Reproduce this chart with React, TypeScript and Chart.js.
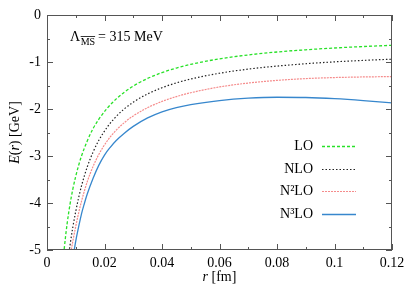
import React, { useEffect, useRef } from "react";
import { Chart, registerables } from "chart.js";

Chart.register(...registerables);

// r [fm] and E(r) [GeV]
const loR = [0.0055, 0.006, 0.007, 0.008, 0.009, 0.01, 0.011, 0.012, 0.014, 0.016, 0.018, 0.021, 0.024, 0.027, 0.03, 0.035, 0.04, 0.045, 0.05, 0.06, 0.07, 0.08, 0.09, 0.1, 0.11, 0.12];
const loE = [-5.3, -4.97, -4.44, -4.03, -3.7, -3.43, -3.2, -3.0, -2.68, -2.42, -2.22, -1.98, -1.79, -1.638, -1.512, -1.35, -1.225, -1.128, -1.05, -0.933, -0.85, -0.787, -0.74, -0.702, -0.671, -0.645];

const nloR = [0.0072, 0.0077, 0.008, 0.009, 0.01, 0.011, 0.012, 0.014, 0.016, 0.018, 0.021, 0.024, 0.027, 0.03, 0.035, 0.04, 0.045, 0.05, 0.06, 0.07, 0.08, 0.09, 0.1, 0.11, 0.12];
const nloE = [-5.27, -5.03, -4.9, -4.51, -4.178, -3.887, -3.637, -3.232, -2.919, -2.669, -2.383, -2.163, -1.992, -1.855, -1.679, -1.547, -1.444, -1.362, -1.239, -1.151, -1.087, -1.037, -0.997, -0.966, -0.94];

const n2loR = [0.008, 0.0085, 0.009, 0.01, 0.011, 0.012, 0.014, 0.016, 0.018, 0.021, 0.024, 0.027, 0.03, 0.035, 0.04, 0.045, 0.05, 0.06, 0.07, 0.08, 0.09, 0.1, 0.11, 0.12];
const n2loE = [-5.18, -4.983, -4.807, -4.496, -4.214, -3.964, -3.547, -3.226, -2.969, -2.675, -2.455, -2.284, -2.147, -1.971, -1.839, -1.736, -1.654, -1.531, -1.448, -1.391, -1.353, -1.331, -1.318, -1.31];

const n3loR = [0.009, 0.0095, 0.01, 0.011, 0.012, 0.013, 0.014, 0.016, 0.018, 0.02, 0.022, 0.024, 0.027, 0.03, 0.035, 0.04, 0.045, 0.05, 0.06, 0.07, 0.08, 0.09, 0.1, 0.11, 0.12];
const n3loE = [-5.19, -4.99, -4.81, -4.51, -4.23, -4.01, -3.81, -3.48, -3.2, -2.98, -2.815, -2.675, -2.51, -2.37, -2.19, -2.06, -1.97, -1.905, -1.82, -1.77, -1.75, -1.755, -1.78, -1.82, -1.87];

const seriesNames = ["LO", "NLO", "N²LO", "N³LO"];
const xTicks = [0, 0.02, 0.04, 0.06, 0.08, 0.1, 0.12];
const yTicks = [0, -1, -2, -3, -4, -5];
const annotationValue = "315 MeV";

const FONT = '"Liberation Serif", "Times New Roman", serif';

const pts = (r: number[], e: number[]) => r.map((v, i) => ({ x: v, y: e[i] }));

const decor = {
  id: "decor",
  afterDraw(chart: any) {
    const ctx = chart.ctx as CanvasRenderingContext2D;
    const { left, right, top, bottom } = chart.chartArea;
    const xs = chart.scales.x;
    const ys = chart.scales.y;
    ctx.save();
    // frame
    ctx.strokeStyle = "#555";
    ctx.lineWidth = 1;
    ctx.strokeRect(left + 0.5, top + 0.5, right - left - 1, bottom - top - 1);
    // ticks
    ctx.beginPath();
    for (let v = 0; v <= 0.12001; v += 0.01) {
      const major = Math.round(v * 100) % 2 === 0;
      const len = major ? 6 : 3;
      const px = Math.round(xs.getPixelForValue(v)) + 0.5;
      ctx.moveTo(px, bottom);
      ctx.lineTo(px, bottom - len);
      ctx.moveTo(px, top);
      ctx.lineTo(px, top + len);
    }
    for (let v = 0; v >= -5.0001; v -= 0.5) {
      const major = Math.abs(v - Math.round(v)) < 1e-6;
      const len = major ? 6 : 3;
      const py = Math.round(ys.getPixelForValue(v)) + 0.5;
      ctx.moveTo(left, py);
      ctx.lineTo(left + len, py);
      ctx.moveTo(right, py);
      ctx.lineTo(right - len, py);
    }
    ctx.stroke();

    ctx.fillStyle = "#000";
    const draw = (parts: [string, string][], x: number, y: number, center: boolean) => {
      let w = 0;
      for (const [t, f] of parts) {
        ctx.font = f;
        w += ctx.measureText(t).width;
      }
      let cx = center ? x - w / 2 : x;
      for (const [t, f] of parts) {
        ctx.font = f;
        ctx.fillText(t, cx, y);
        cx += ctx.measureText(t).width;
      }
    };
    const N = "14px " + FONT;
    const I = "italic 14px " + FONT;
    ctx.textBaseline = "alphabetic";
    ctx.textAlign = "left";
    // x title
    draw([["r", I], [" [fm]", N]], (left + right) / 2, 281, true);
    // y title
    ctx.save();
    ctx.translate(19, (top + bottom) / 2);
    ctx.rotate(-Math.PI / 2);
    draw([["E", I], ["(", N], ["r", I], [") [GeV]", N]], 0, 0, true);
    ctx.restore();

    // annotation Lambda_MSbar
    let ax = left + 23;
    const ay = top + 26;
    ctx.font = N;
    ctx.fillText("Λ", ax, ay);
    ax += ctx.measureText("Λ").width + 0.5;
    ctx.font = "10px " + FONT;
    const msw = ctx.measureText("MS").width;
    ctx.fillText("MS", ax, ay + 4);
    ctx.beginPath();
    ctx.lineWidth = 0.8;
    ctx.strokeStyle = "#000";
    ctx.moveTo(ax, ay - 4.5);
    ctx.lineTo(ax + msw, ay - 4.5);
    ctx.stroke();
    ax += msw + 3;
    ctx.font = N;
    ctx.fillText("= " + annotationValue, ax, ay);

    // legend
    const ds = chart.data.datasets;
    const lx = 313;
    const rowY = [146, 169, 191, 214];
    ds.forEach((d: any, i: number) => {
      ctx.font = N;
      ctx.textAlign = "right";
      ctx.textBaseline = "middle";
      ctx.fillStyle = "#000";
      ctx.fillText(d.label, lx, rowY[i] + 0.5);
      ctx.beginPath();
      ctx.strokeStyle = d.borderColor;
      ctx.lineWidth = d.borderWidth;
      ctx.setLineDash(d.borderDash || []);
      ctx.moveTo(lx + 9, rowY[i] + 0.5);
      ctx.lineTo(lx + 43, rowY[i] + 0.5);
      ctx.stroke();
      ctx.setLineDash([]);
    });
    ctx.restore();
  },
};

export default function App() {
  const ref = useRef<HTMLCanvasElement>(null);
  useEffect(() => {
    if (!ref.current) return;
    const tickFont = { family: FONT, size: 14 };
    const chart = new Chart(ref.current, {
      type: "line",
      data: {
        datasets: [
          { label: seriesNames[0], data: pts(loR, loE), borderColor: "rgb(40,225,40)", borderWidth: 1.3, borderDash: [3, 2] },
          { label: seriesNames[1], data: pts(nloR, nloE), borderColor: "#222", borderWidth: 1.2, borderDash: [1.5, 2] },
          { label: seriesNames[2], data: pts(n2loR, n2loE), borderColor: "rgb(245,140,140)", borderWidth: 1.2, borderDash: [2, 1] },
          { label: seriesNames[3], data: pts(n3loR, n3loE), borderColor: "rgb(55,135,205)", borderWidth: 1.3 },
        ] as any,
      },
      options: {
        animation: false,
        responsive: false,
        maintainAspectRatio: false,
        parsing: false as any,
        elements: { point: { radius: 0 }, line: { cubicInterpolationMode: "monotone", fill: false } },
        layout: { padding: { left: 0, top: 15, right: 23, bottom: 0 } },
        plugins: { legend: { display: false }, tooltip: { enabled: false } },
        scales: {
          x: {
            type: "linear",
            min: 0,
            max: 0.12,
            grid: { display: false, drawTicks: false },
            border: { display: false },
            afterBuildTicks: (s: any) => { s.ticks = xTicks.map((v) => ({ value: v })); },
            afterFit: (s: any) => { s.height = 41; },
            ticks: {
              padding: 5,
              color: "#000",
              font: tickFont,
              maxRotation: 0,
              autoSkip: false,
              callback: (v: any) => String(Math.round(Number(v) * 100) / 100),
            },
          },
          y: {
            type: "linear",
            min: -5,
            max: 0,
            grid: { display: false, drawTicks: false },
            border: { display: false },
            afterBuildTicks: (s: any) => { s.ticks = yTicks.map((v) => ({ value: v })); },
            afterFit: (s: any) => { s.width = 47; },
            ticks: {
              padding: 6,
              color: "#000",
              font: tickFont,
              autoSkip: false,
              callback: (v: any) => String(Math.round(Number(v))),
            },
          },
        },
      },
      plugins: [decor],
    });
    return () => chart.destroy();
  }, []);
  return (
    <div style={{ position: "fixed", left: 0, top: 0, width: 415, height: 291, background: "#fff" }}>
      <canvas ref={ref} width={415} height={291} style={{ width: 415, height: 291 }} />
    </div>
  );
}
